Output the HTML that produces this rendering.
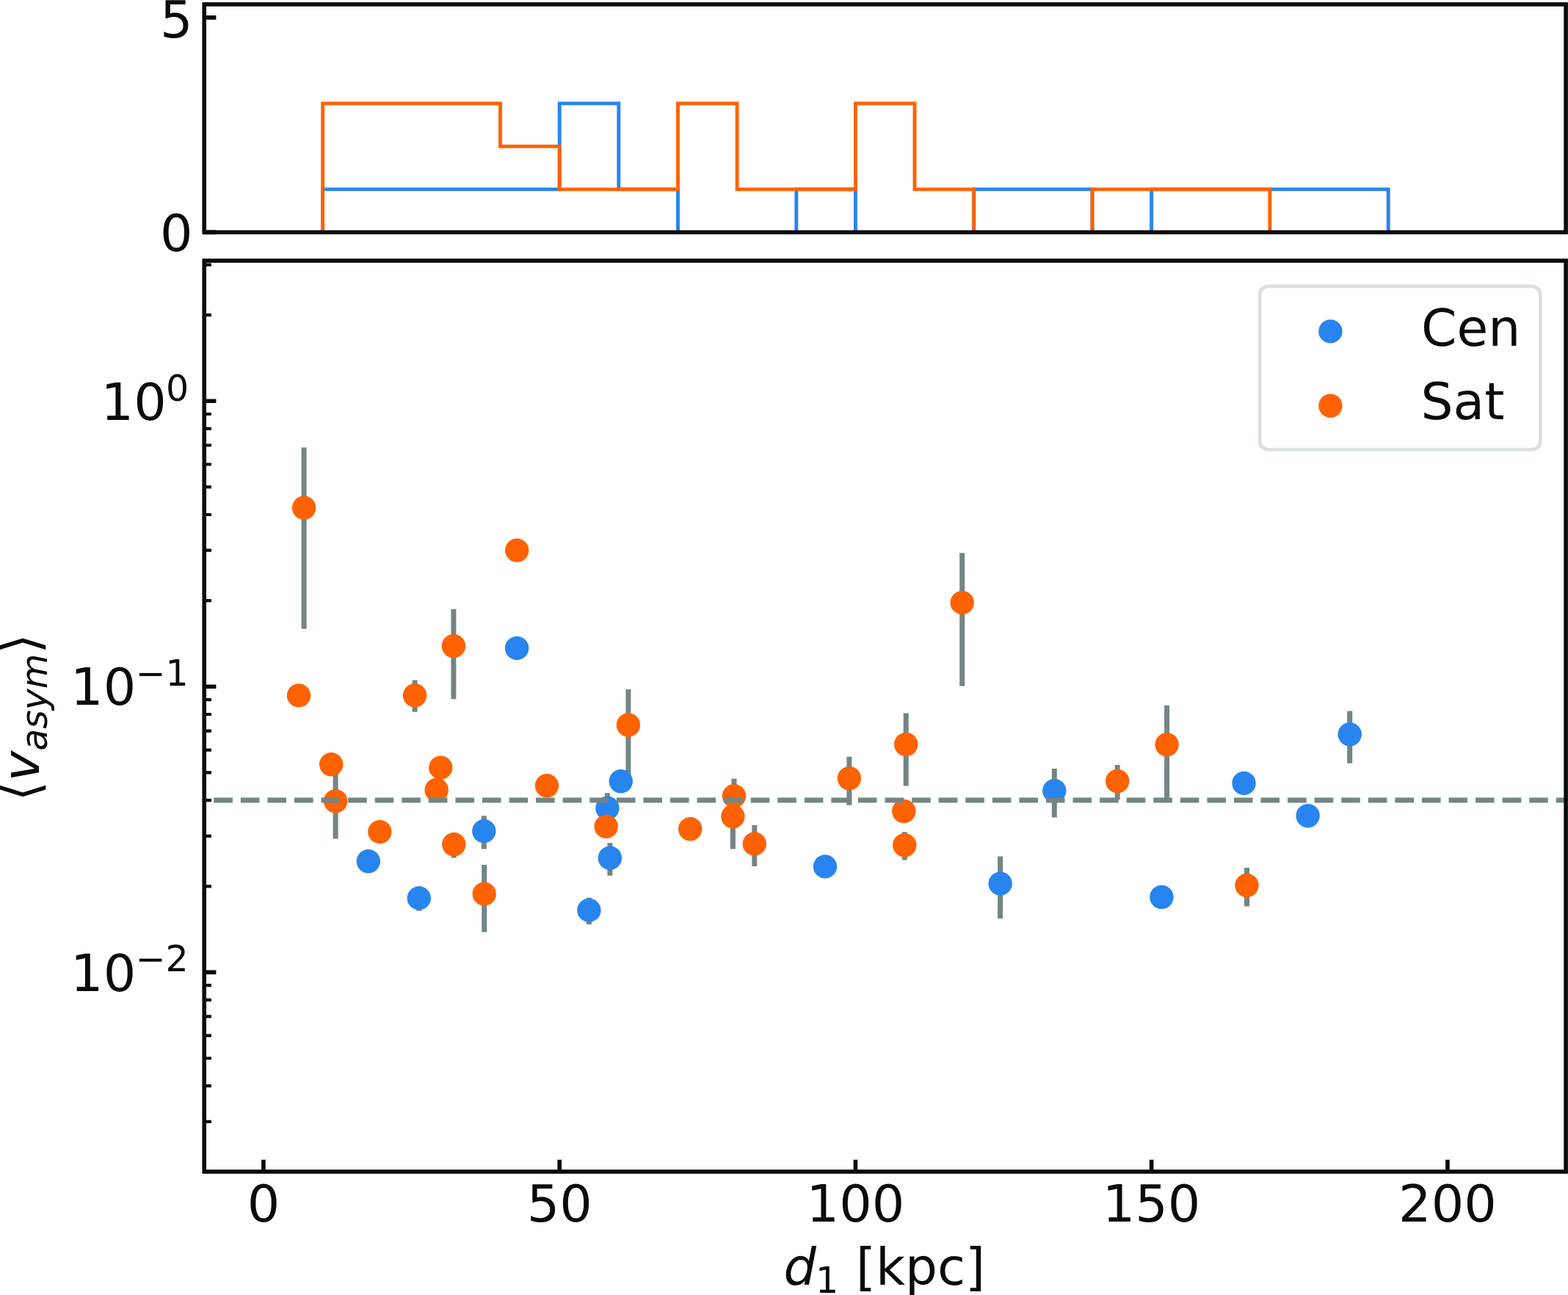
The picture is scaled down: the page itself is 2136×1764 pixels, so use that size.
<!DOCTYPE html>
<html><head><meta charset="utf-8"><title>plot</title>
<style>
html,body{margin:0;padding:0;background:#fff;}
body{width:2136px;height:1764px;overflow:hidden;}
svg{display:block;}
text{font-family:'DejaVu Sans', 'Liberation Sans', sans-serif;fill:#090a0c;}
</style></head><body>
<svg width="2136" height="1764" viewBox="0 0 2136 1764">
<rect width="2136" height="1764" fill="#fff"/>

<defs><clipPath id="c1"><rect x="278.2" y="5.9" width="1854.8999999999999" height="310.5"/></clipPath><clipPath id="c2"><rect x="278.2" y="355.1" width="1854.8999999999999" height="1240.9"/></clipPath></defs>
<g clip-path="url(#c1)" fill="none" stroke-width="4.9" stroke-linejoin="miter"><path d="M439.6 316.4L439.6 257.9L520.2 257.9L520.2 257.9L600.9 257.9L600.9 257.9L681.5 257.9L681.5 257.9L762.2 257.9L762.2 140.9L842.8 140.9L842.8 257.9L923.5 257.9L923.5 316.4L1004.1 316.4L1004.1 316.4L1084.8 316.4L1084.8 257.9L1165.4 257.9L1165.4 316.4L1246.0 316.4L1246.0 316.4L1326.7 316.4L1326.7 257.9L1407.3 257.9L1407.3 257.9L1488.0 257.9L1488.0 316.4L1568.6 316.4L1568.6 257.9L1649.3 257.9L1649.3 257.9L1729.9 257.9L1729.9 257.9L1810.6 257.9L1810.6 257.9L1891.2 257.9L1891.2 316.4" stroke="#2884ee"/><path d="M439.6 316.4L439.6 140.9L520.2 140.9L520.2 140.9L600.9 140.9L600.9 140.9L681.5 140.9L681.5 199.4L762.2 199.4L762.2 257.9L842.8 257.9L842.8 257.9L923.5 257.9L923.5 140.9L1004.1 140.9L1004.1 257.9L1084.8 257.9L1084.8 257.9L1165.4 257.9L1165.4 140.9L1246.0 140.9L1246.0 257.9L1326.7 257.9L1326.7 316.4L1407.3 316.4L1407.3 316.4L1488.0 316.4L1488.0 257.9L1568.6 257.9L1568.6 257.9L1649.3 257.9L1649.3 257.9L1729.9 257.9L1729.9 316.4L1810.6 316.4L1810.6 316.4L1891.2 316.4L1891.2 316.4" stroke="#ff6200"/></g>
<g clip-path="url(#c2)">
<path d="M414.1 609.6V856.5M1310.7 753.3V934.5M617.9 829.8V952.3M565.1 926.6V969.8M855.9 939.0V1055.8M1234.2 971.6V1070.4M1589.6 960.9V1092.5M457.1 1051.8V1142.6M1156.9 1030.8V1096.7M1000.0 1060.8V1111.4M1522.2 1042.0V1089.3M998.4 1077.2V1156.4M618.3 1134.0V1168.4M1027.8 1123.9V1180.0M1232.3 1133.2V1171.6M659.7 1178.0V1269.8M1698.5 1182.0V1234.6M1838.7 968.5V1039.7M1436.3 1047.0V1113.6M827.4 1080.2V1124.0M659.3 1111.2V1156.4M830.9 1148.2V1192.7M1362.6 1166.5V1251.2M570.8 1207.6V1240.8M802.4 1222.8V1259.3" stroke="#738584" stroke-width="7" fill="none"/>
<g fill="#2884ee"><circle cx="704.1" cy="882.9" r="16.2"/><circle cx="1838.7" cy="1000.3" r="16.2"/><circle cx="845.8" cy="1064.2" r="16.2"/><circle cx="1436.3" cy="1077.1" r="16.2"/><circle cx="1694.5" cy="1066.9" r="16.2"/><circle cx="827.4" cy="1100.7" r="16.2"/><circle cx="1781.6" cy="1111.3" r="16.2"/><circle cx="659.3" cy="1132.1" r="16.2"/><circle cx="830.9" cy="1168.8" r="16.2"/><circle cx="501.8" cy="1173.3" r="16.2"/><circle cx="1124.0" cy="1180.4" r="16.2"/><circle cx="1362.6" cy="1203.6" r="16.2"/><circle cx="570.8" cy="1223.4" r="16.2"/><circle cx="1582.4" cy="1222.0" r="16.2"/><circle cx="802.4" cy="1239.9" r="16.2"/></g>
<g fill="#ff6200"><circle cx="414.1" cy="691.8" r="16.2"/><circle cx="704.2" cy="749.6" r="16.2"/><circle cx="1310.7" cy="820.9" r="16.2"/><circle cx="617.9" cy="880.0" r="16.2"/><circle cx="407.0" cy="947.4" r="16.2"/><circle cx="565.1" cy="947.2" r="16.2"/><circle cx="855.9" cy="987.5" r="16.2"/><circle cx="451.2" cy="1041.2" r="16.2"/><circle cx="1234.2" cy="1014.0" r="16.2"/><circle cx="1589.6" cy="1014.2" r="16.2"/><circle cx="600.3" cy="1045.6" r="16.2"/><circle cx="594.7" cy="1076.0" r="16.2"/><circle cx="745.0" cy="1070.3" r="16.2"/><circle cx="457.1" cy="1091.2" r="16.2"/><circle cx="1156.9" cy="1060.3" r="16.2"/><circle cx="1000.0" cy="1084.2" r="16.2"/><circle cx="1522.2" cy="1064.0" r="16.2"/><circle cx="1231.3" cy="1105.0" r="16.2"/><circle cx="517.4" cy="1133.1" r="16.2"/><circle cx="998.4" cy="1112.2" r="16.2"/><circle cx="825.7" cy="1125.9" r="16.2"/><circle cx="940.2" cy="1129.3" r="16.2"/><circle cx="618.3" cy="1150.3" r="16.2"/><circle cx="1027.8" cy="1149.4" r="16.2"/><circle cx="1232.3" cy="1151.3" r="16.2"/><circle cx="659.7" cy="1217.6" r="16.2"/><circle cx="1698.5" cy="1206.0" r="16.2"/></g>
<path d="M278.2 1089.9H2133.1" stroke="#738584" stroke-width="7" stroke-dasharray="25.6 10.97" stroke-dashoffset="23.5" fill="none"/>
</g>
<path d="M278.2 316.4H294.4M278.2 23.9H294.4M278.2 546.2H294.4M278.2 935.3H294.4M278.2 1324.4H294.4M358.9 1596.0V1579.8M762.2 1596.0V1579.8M1165.4 1596.0V1579.8M1568.6 1596.0V1579.8M1971.9 1596.0V1579.8" stroke="#090a0c" stroke-width="5.6" fill="none"/>
<path d="M278.2 1527.9H287.9M278.2 1479.2H287.9M278.2 1441.5H287.9M278.2 1410.7H287.9M278.2 1384.7H287.9M278.2 1362.1H287.9M278.2 1342.2H287.9M278.2 1207.3H287.9M278.2 1138.8H287.9M278.2 1090.1H287.9M278.2 1052.4H287.9M278.2 1021.6H287.9M278.2 995.6H287.9M278.2 973.0H287.9M278.2 953.1H287.9M278.2 818.2H287.9M278.2 749.7H287.9M278.2 701.0H287.9M278.2 663.3H287.9M278.2 632.5H287.9M278.2 606.5H287.9M278.2 583.9H287.9M278.2 564.0H287.9M278.2 429.1H287.9M278.2 360.6H287.9" stroke="#090a0c" stroke-width="4.2" fill="none"/>
<rect x="278.2" y="5.9" width="1854.9" height="310.5" fill="none" stroke="#090a0c" stroke-width="5.6"/>
<rect x="278.2" y="355.1" width="1854.9" height="1240.9" fill="none" stroke="#090a0c" stroke-width="5.6"/>
<rect x="1716.0" y="389.9" width="382.4" height="222.6" rx="12" ry="12" fill="#fff" fill-opacity="0.8" stroke="#dbe0e0" stroke-width="4.7"/>
<circle cx="1812.4" cy="451.4" r="16.2" fill="#2884ee"/>
<circle cx="1812.4" cy="552.7" r="16.2" fill="#ff6200"/>
<text x="1936.0" y="470.6" font-size="69.5">Cen</text>
<text x="1935.5" y="571.2" font-size="69.5">Sat</text>
<text x="262.6" y="50.6" font-size="70" text-anchor="end">5</text>
<text x="262.6" y="342.0" font-size="70" text-anchor="end">0</text>
<text x="137.6" y="571.6" font-size="70">10</text><text x="226" y="545.5" font-size="49.0">0</text>
<text x="96.1" y="960.3" font-size="70">10</text><text x="184.4" y="934.0" font-size="49.0">−1</text>
<text x="96.1" y="1350.2" font-size="70">10</text><text x="184.4" y="1323.3" font-size="49.0">−2</text>
<text x="358.9" y="1664.0" font-size="70" text-anchor="middle">0</text>
<text x="762.2" y="1664.0" font-size="70" text-anchor="middle">50</text>
<text x="1165.4" y="1664.0" font-size="70" text-anchor="middle">100</text>
<text x="1568.6" y="1664.0" font-size="70" text-anchor="middle">150</text>
<text x="1971.9" y="1664.0" font-size="70" text-anchor="middle">200</text>
<text x="1067.5" y="1750" font-size="70" font-style="italic">d</text><text x="1110.9" y="1761" font-size="49.0">1</text><text x="1166.0" y="1750" font-size="69.2">[kpc]</text>
<text transform="translate(52.7,1091.5) rotate(-90)" font-size="70">⟨<tspan font-style="italic">v</tspan><tspan font-style="italic" font-size="49.0" dy="11">asym</tspan><tspan dy="-11">⟩</tspan></text>
</svg></body></html>
